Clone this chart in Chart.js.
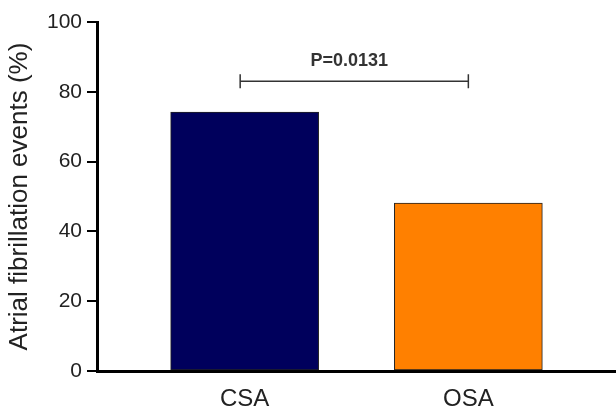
<!DOCTYPE html>
<html>
<head>
<meta charset="utf-8">
<script src="https://cdn.jsdelivr.net/npm/chart.js@4/dist/chart.umd.min.js"></script>
<style>
  html, body { margin: 0; padding: 0; background: #fff; }
  #wrap { width: 616px; height: 409px; }
</style>
</head>
<body>
<div id="wrap"><canvas id="chart" width="616" height="409"></canvas></div>
<script>
// data
const categories = ['CSA', 'OSA'];
const afValues = [74.2, 48.1];
const barColors = ['#00005c', '#ff8000'];
const yTicks = [0, 20, 40, 60, 80, 100];
const bracketSpan = [-0.02, 1.0];
const bracketLevel = 83;
const bracketLabel = 'P=0.0131';

const fontFamily = "'Liberation Sans', Arial, sans-serif";

// significance bracket above the bars
const bracketPlugin = {
    id: 'bracket',
    afterDatasetsDraw(chart) {
        const { ctx, scales: { x, y } } = chart;
        const x1 = x.getPixelForValue(bracketSpan[0]);
        const x2 = x.getPixelForValue(bracketSpan[1]);
        const yy = y.getPixelForValue(bracketLevel);
        ctx.save();
        ctx.strokeStyle = '#333';
        ctx.lineWidth = 1.5;
        ctx.beginPath();
        ctx.moveTo(x1, yy);
        ctx.lineTo(x2, yy);
        ctx.moveTo(x1, yy - 7);
        ctx.lineTo(x1, yy + 7);
        ctx.moveTo(x2, yy - 7);
        ctx.lineTo(x2, yy + 7);
        ctx.stroke();
        ctx.fillStyle = '#333';
        ctx.font = 'bold 18px ' + fontFamily;
        ctx.textAlign = 'center';
        ctx.textBaseline = 'middle';
        ctx.fillText(bracketLabel, (x1 + x2) / 2 - 5, yy - 20);
        ctx.restore();
    }
};

new Chart(document.getElementById('chart'), {
    type: 'bar',
    data: {
        datasets: [{
            data: afValues.map((v, i) => ({ x: i, y: v })),
            backgroundColor: barColors,
            borderColor: '#222',
            borderWidth: 1,
            borderSkipped: false,
            barThickness: 148
        }]
    },
    options: {
        responsive: false,
        animation: false,
        layout: { padding: { top: 22, right: 0, left: 0, bottom: 0 } },
        plugins: {
            legend: { display: false },
            tooltip: { enabled: false }
        },
        scales: {
            x: {
                type: 'linear',
                min: -0.66,
                max: 1.66,
                offset: false,
                afterBuildTicks: (scale) => {
                    scale.ticks = categories.map((c, i) => ({ value: i }));
                },
                afterFit: (scale) => { scale.height = 38; },
                grid: { display: false, offset: false },
                border: { display: true, color: '#000', width: 3 },
                ticks: {
                    color: '#222',
                    padding: 6,
                    maxRotation: 0,
                    font: { family: fontFamily, size: 24 },
                    callback: (v) => categories[v]
                }
            },
            y: {
                min: 0,
                max: 100,
                afterBuildTicks: (scale) => {
                    scale.ticks = yTicks.map(v => ({ value: v }));
                },
                afterFit: (scale) => { scale.width = 97; },
                grid: {
                    drawOnChartArea: false,
                    drawTicks: true,
                    tickLength: 10,
                    tickColor: '#000',
                    lineWidth: 2
                },
                border: { display: true, color: '#000', width: 3 },
                ticks: {
                    color: '#222',
                    padding: 5,
                    font: { family: fontFamily, size: 21 }
                },
                title: {
                    display: true,
                    text: 'Atrial fibrillation events (%)',
                    color: '#222',
                    padding: { top: 4, bottom: 0 },
                    font: { family: fontFamily, size: 26 }
                }
            }
        }
    },
    plugins: [bracketPlugin]
});
</script>
</body>
</html>
